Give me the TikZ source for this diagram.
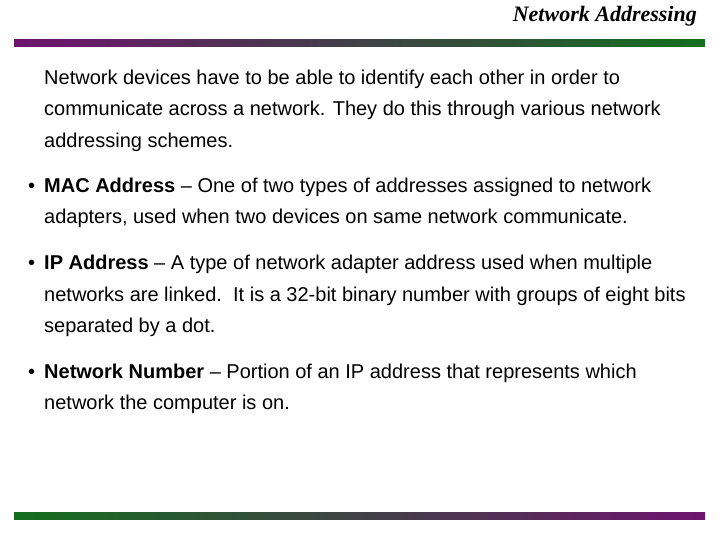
\documentclass[tikz,border=0pt]{standalone}
\usepackage{fontspec}
\setmainfont{Liberation Sans}
\newfontfamily\titlefont{Liberation Serif}
\begin{document}
\begin{tikzpicture}[x=1bp,y=-1bp,
  txt/.style={anchor=base west,inner sep=0pt,font=\fontsize{20bp}{22bp}\selectfont},
  bul/.style={anchor=base west,inner sep=0pt,font=\fontsize{20bp}{22bp}\selectfont}]
\definecolor{pur}{RGB}{110,20,110}
\definecolor{grn}{RGB}{20,110,30}
\useasboundingbox (0,0) rectangle (720,540);
\shade[left color=pur,right color=grn] (14,40) rectangle (705,47);
\shade[left color=grn,right color=pur] (14,512) rectangle (705,519);
\node[anchor=base east,inner sep=0pt,font=\titlefont\fontsize{22bp}{24bp}\selectfont\bfseries\itshape] (title) at (697,22) {Network Addressing};
\node[txt] (l1) at (44,85) {Network devices have to be able to identify each other in order to};
\node[txt] (l2) at (44,116) {communicate across a network. They do this through various network};
\node[txt] (l3) at (44,148) {addressing schemes.};
\node[bul] (b1) at (28,193) {•};
\node[txt] (l4) at (44,193) {\textbf{MAC Address} -- One of two types of addresses assigned to network};
\node[txt] (l5) at (44,224) {adapters, used when two devices on same network communicate.};
\node[bul] (b2) at (28,270) {•};
\node[txt] (l6) at (44,270) {\textbf{IP Address} -- A type of network adapter address used when multiple};
\node[txt] (l7) at (44,301) {networks are linked.\ \ It is a 32-bit binary number with groups of eight bits};
\node[txt] (l8) at (44,332) {separated by a dot.};
\node[bul] (b3) at (28,378) {•};
\node[txt] (l9) at (44,378) {\textbf{Network Number} -- Portion of an IP address that represents which};
\node[txt] (l10) at (44,409) {network the computer is on.};
\end{tikzpicture}
\end{document}
